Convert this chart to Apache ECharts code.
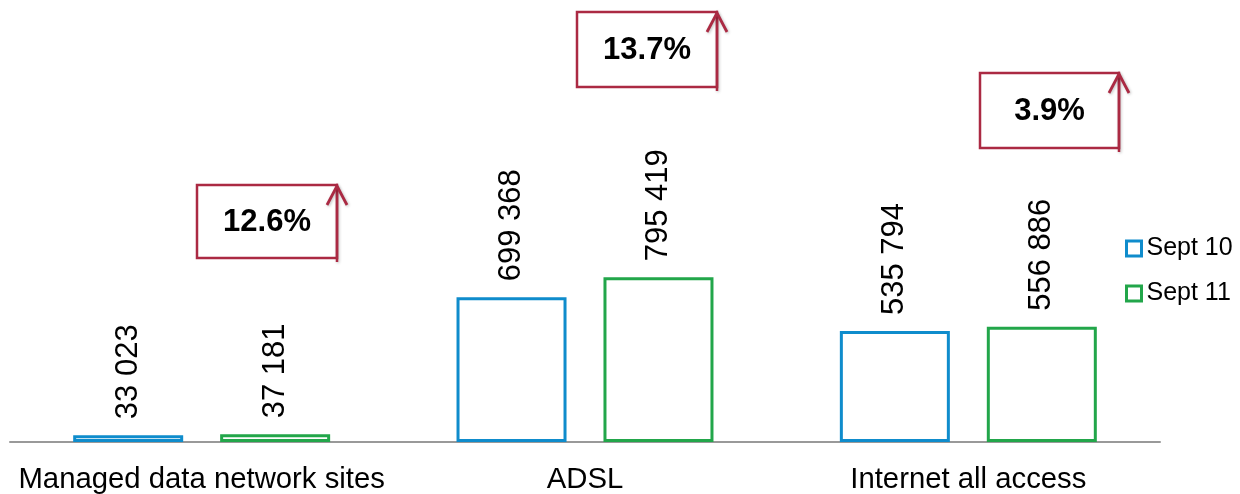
<!DOCTYPE html>
<html>
<head>
<meta charset="utf-8">
<title>Managed data, ADSL and Internet access</title>
<script src="https://cdn.jsdelivr.net/npm/echarts@6/dist/echarts.min.js"></script>
<style>
  html, body { margin: 0; padding: 0; background: #ffffff; }
  #chart { width: 1240px; height: 494px; }
</style>
</head>
<body>
<div id="chart"></div>
<script>
// Subscriber counts per service, two periods
const categories = ['Managed data network sites', 'ADSL', 'Internet all access'];
const seriesNames = ['Sept 10', 'Sept 11'];
const sept10 = [33023, 699368, 535794];
const sept11 = [37181, 795419, 556886];
const growthLabels = ['12.6%', '13.7%', '3.9%'];

const FONT = '"Liberation Sans", Arial, Helvetica, sans-serif';
const BLUE = '#0f8ccc';
const GREEN = '#22a64a';
const RED = '#ab2a43';

// numbers use a space as the thousands separator
function fmt(v) {
  return String(v).replace(/\B(?=(\d{3})+(?!\d))/g, ' ');
}

const chart = echarts.init(document.getElementById('chart'), null, { renderer: 'canvas' });

function barSeries(name, data, color) {
  return {
    name: name,
    type: 'bar',
    data: data,
    barWidth: 110,
    barGap: '33.6%',
    itemStyle: { color: '#ffffff', borderColor: color, borderWidth: 3 },
    label: {
      show: true,
      position: 'top',
      rotate: 90,
      align: 'left',
      verticalAlign: 'middle',
      distance: 16,
      color: '#000000',
      fontFamily: FONT,
      fontSize: 31,
      formatter: p => fmt(p.value)
    },
    emphasis: { disabled: true },
    animation: false
  };
}

// growth call-outs: boxed percentage with an upward arrow on the right edge
const boxes = [
  { x: 197, y: 185, w: 140, h: 73 },
  { x: 577, y: 12, w: 140, h: 75 },
  { x: 980, y: 73, w: 139, h: 75 }
];
const graphics = [];
boxes.forEach((b, i) => {
  graphics.push({
    type: 'rect',
    shape: { x: b.x, y: b.y, width: b.w, height: b.h },
    style: { fill: '#ffffff', stroke: RED, lineWidth: 2.5 },
    z: 10
  });
  graphics.push({
    type: 'text',
    x: b.x + b.w / 2,
    y: b.y + b.h / 2 + 1,
    style: {
      text: growthLabels[i],
      fill: '#000000',
      font: 'bold 31px ' + FONT,
      align: 'center',
      verticalAlign: 'middle'
    },
    z: 11
  });
  const ax = b.x + b.w;
  graphics.push({
    type: 'polyline',
    shape: { points: [[ax, b.y + b.h + 4], [ax, b.y + 1]] },
    style: { stroke: RED, lineWidth: 2.5, shadowBlur: 3, shadowColor: 'rgba(0,0,0,0.25)', shadowOffsetX: 1, shadowOffsetY: 1 },
    z: 12
  });
  graphics.push({
    type: 'polyline',
    shape: { points: [[ax - 10, b.y + 20], [ax, b.y + 1], [ax + 10, b.y + 20]] },
    style: { stroke: RED, lineWidth: 2.8, fill: null, shadowBlur: 3, shadowColor: 'rgba(0,0,0,0.25)', shadowOffsetX: 1, shadowOffsetY: 1 },
    z: 12
  });
});

chart.setOption({
  animation: false,
  backgroundColor: '#ffffff',
  grid: { left: 10, right: 80, top: 28, bottom: 51, containLabel: false },
  legend: {
    orient: 'vertical',
    left: 1125,
    top: 236,
    padding: 0,
    itemWidth: 15,
    itemHeight: 15,
    itemGap: 20,
    selectedMode: false,
    textStyle: { fontFamily: FONT, fontSize: 25, color: '#000000' },
    data: [
      { name: seriesNames[0], icon: 'rect', itemStyle: { color: '#ffffff', borderColor: BLUE, borderWidth: 3 } },
      { name: seriesNames[1], icon: 'rect', itemStyle: { color: '#ffffff', borderColor: GREEN, borderWidth: 3 } }
    ]
  },
  xAxis: {
    type: 'category',
    data: categories,
    axisLine: { show: true, lineStyle: { color: '#999999', width: 2 } },
    axisTick: { show: false },
    axisLabel: {
      interval: 0,
      margin: 23,
      color: '#000000',
      fontFamily: FONT,
      fontSize: 29.3
    }
  },
  yAxis: {
    type: 'value',
    min: 0,
    max: 2000000,
    show: false,
    splitLine: { show: false }
  },
  series: [
    barSeries(seriesNames[0], sept10, BLUE),
    barSeries(seriesNames[1], sept11, GREEN)
  ],
  graphic: graphics
});
</script>
</body>
</html>
